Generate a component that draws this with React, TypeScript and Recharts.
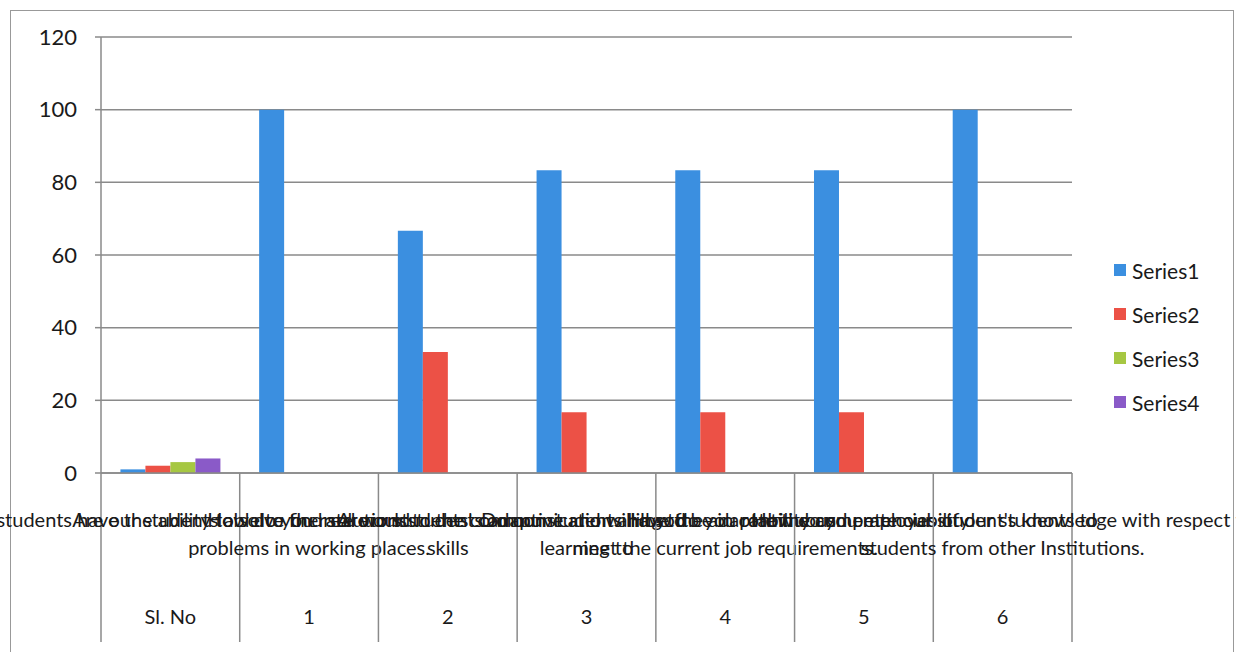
import { BarChart, Bar, XAxis, YAxis, CartesianGrid } from "recharts";

const categories = ["Sl. No", "1", "2", "3", "4", "5", "6"];

// the long question text Excel squeezed under each category (it overlaps)
const questionTop = [
  "Do our students have the ability to solve the real world",
  "Are our students able to find solutions to the common",
  "How do you rate our students' communication and soft",
  "Are our students adaptive and willing to be in continuous",
  "Do our students have the adaptability and employability",
  "How do you rate the competencies of our students to",
  "How do you rate our student's knowledge with respect to",
];
const questionBottom = [
  "",
  "problems in working places.",
  "skills",
  "learning to",
  "meet the current job requirements.",
  "",
  "students from other Institutions.",
];

const series1 = [1, 100, 66.7, 83.3, 83.3, 83.3, 100];
const series2 = [2, 0, 33.3, 16.7, 16.7, 16.7, 0];
const series3 = [3, 0, 0, 0, 0, 0, 0];
const series4 = [4, 0, 0, 0, 0, 0, 0];

const yTicks = [0, 20, 40, 60, 80, 100, 120];

const seriesNames = ["Series1", "Series2", "Series3", "Series4"];
const seriesColors = ["#3b8fe0", "#ec5146", "#a6c742", "#8a5ac8"];

const W = 1236;
const H = 652;
const PLOT_LEFT = 101;
const PLOT_RIGHT = 1072;
const PLOT_TOP = 37;
const PLOT_BOTTOM = 473;
const BAND = (PLOT_RIGHT - PLOT_LEFT) / categories.length;
const FONT = "Lato, 'Open Sans', sans-serif";
const GRID = "#8a8a8a";
const INK = "#1a1a1a";

const data = categories.map((name, i) => ({
  name,
  top: questionTop[i],
  bottom: questionBottom[i],
  s1: series1[i],
  s2: series2[i],
  s3: series3[i],
  s4: series4[i],
}));

function CategoryTick(props: any) {
  const { x, index, payload } = props;
  const row = data[index] || data.find((d) => d.name === payload.value);
  const left = x - BAND / 2;
  const last = index === categories.length - 1;
  return (
    <g>
      <line x1={left} x2={left} y1={PLOT_BOTTOM} y2={642} stroke={GRID} strokeWidth={1.5} />
      {last && (
        <line x1={left + BAND} x2={left + BAND} y1={PLOT_BOTTOM} y2={642} stroke={GRID} strokeWidth={1.5} />
      )}
      <text x={x} y={527} textAnchor="middle" fontSize={20} fontFamily={FONT} fill={INK}>
        {row.top}
      </text>
      <text x={x} y={555} textAnchor="middle" fontSize={20} fontFamily={FONT} fill={INK}>
        {row.bottom}
      </text>
      <text x={x} y={624} textAnchor="middle" fontSize={20} fontFamily={FONT} fill={INK}>
        {payload.value}
      </text>
    </g>
  );
}

function SeriesLegend() {
  return (
    <div
      style={{
        position: "absolute",
        left: 1114,
        top: 248,
        fontFamily: FONT,
        fontSize: 21,
        color: INK,
      }}
    >
      {seriesNames.map((n, i) => (
        <div key={n} style={{ display: "flex", alignItems: "center", height: 44 }}>
          <span
            style={{
              width: 12,
              height: 12,
              background: seriesColors[i],
              marginRight: 6,
              display: "inline-block",
            }}
          />
          {n}
        </div>
      ))}
    </div>
  );
}

export default function App() {
  return (
    <div style={{ position: "absolute", left: 0, top: 0, width: W, height: H, background: "#fff", overflow: "hidden" }}>
      <div
        style={{
          position: "absolute",
          left: 10,
          top: 10,
          width: 1222,
          height: 660,
          border: "1.5px solid #999",
        }}
      />
      <BarChart
        width={W}
        height={H}
        data={data}
        margin={{ top: PLOT_TOP, right: W - PLOT_RIGHT, bottom: 0, left: 0 }}
        barCategoryGap="14%"
        barGap={0}
      >
        <CartesianGrid vertical={false} stroke={GRID} strokeWidth={1.5} />
        <YAxis
          width={PLOT_LEFT}
          domain={[0, 120]}
          ticks={yTicks}
          tickSize={6}
          tickMargin={18}
          axisLine={{ stroke: GRID, strokeWidth: 1.5 }}
          tickLine={{ stroke: GRID, strokeWidth: 1.5 }}
          tick={{ fill: INK, fontSize: 22, fontFamily: FONT }}
        />
        <XAxis
          dataKey="name"
          height={H - PLOT_BOTTOM}
          interval={0}
          tickLine={false}
          axisLine={{ stroke: GRID, strokeWidth: 1.5 }}
          tick={<CategoryTick />}
        />
        <Bar dataKey="s1" name="Series1" fill={seriesColors[0]} isAnimationActive={false} />
        <Bar dataKey="s2" name="Series2" fill={seriesColors[1]} isAnimationActive={false} />
        <Bar dataKey="s3" name="Series3" fill={seriesColors[2]} isAnimationActive={false} />
        <Bar dataKey="s4" name="Series4" fill={seriesColors[3]} isAnimationActive={false} />
      </BarChart>
      <SeriesLegend />
    </div>
  );
}
